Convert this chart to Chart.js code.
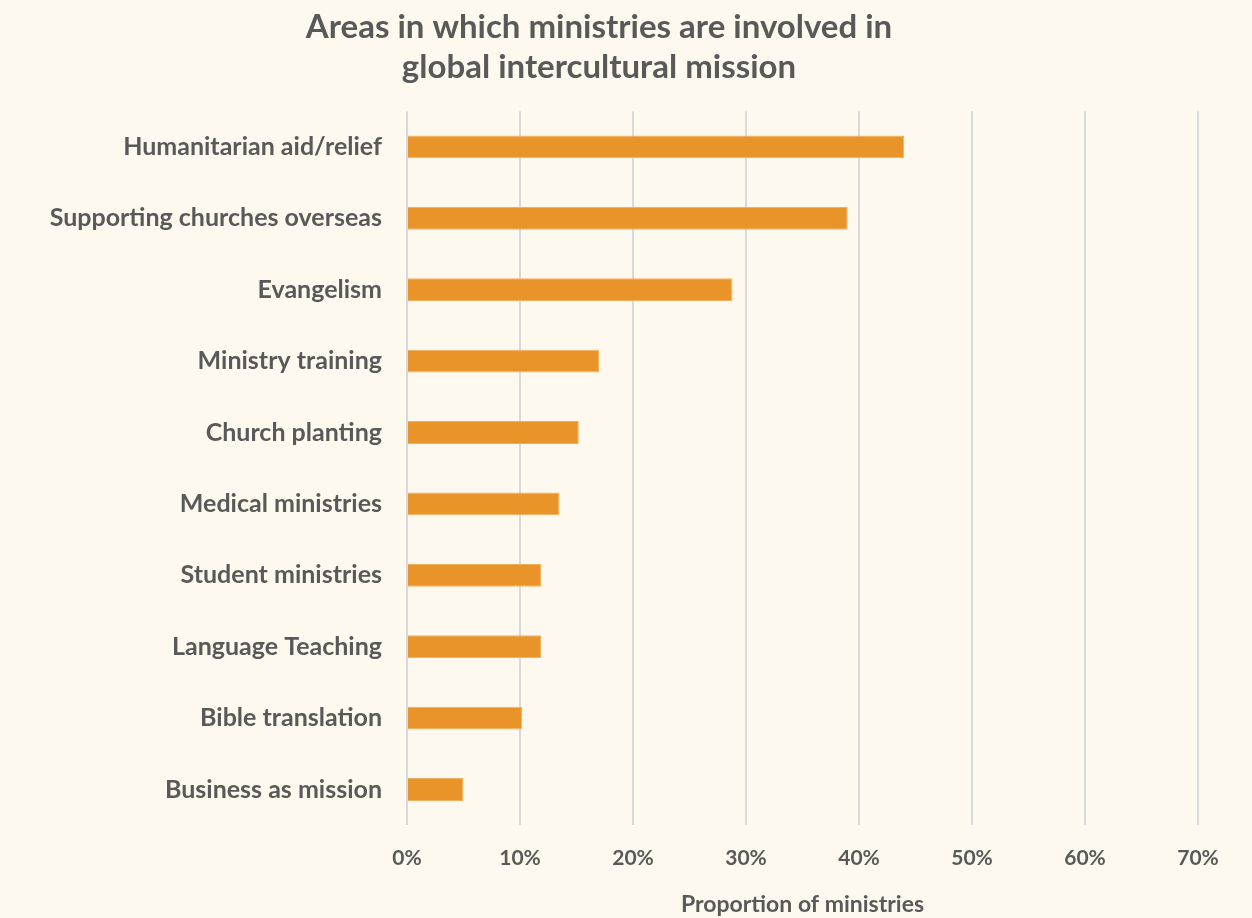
<!DOCTYPE html>
<html>
<head>
<meta charset="utf-8">
<script src="https://cdn.jsdelivr.net/npm/chart.js@4"></script>
<style>
  body { margin: 0; background: #fef9ee; }
  #wrap { width: 1252px; height: 918px; }
</style>
</head>
<body>
<div id="wrap"><canvas id="myChart"></canvas></div>
<script>
// areas of involvement, share of ministries (%)
var areas = [
  'Humanitarian aid/relief',
  'Supporting churches overseas',
  'Evangelism',
  'Ministry training',
  'Church planting',
  'Medical ministries',
  'Student ministries',
  'Language Teaching',
  'Bible translation',
  'Business as mission'
];
var shares = [44, 39, 28.8, 17, 15.2, 13.5, 11.9, 11.9, 10.2, 5];
var xTicks = [0, 10, 20, 30, 40, 50, 60, 70];

var grey = '#595959';
var fontName = 'Lato, "Open Sans", sans-serif';

var ctx = document.getElementById('myChart').getContext('2d');
var myChart = new Chart(ctx, {
  type: 'bar',
  data: {
    labels: areas,
    datasets: [{
      label: 'Proportion of ministries',
      data: shares,
      backgroundColor: '#e99428',
      borderColor: '#f0b060',
      borderWidth: 1,
      categoryPercentage: 1,
      barPercentage: 0.32
    }]
  },
  options: {
    indexAxis: 'y',
    responsive: true,
    maintainAspectRatio: false,
    animation: false,
    layout: { padding: { left: 0, right: 54, top: 0, bottom: 0 } },
    plugins: {
      legend: { display: false },
      tooltip: { enabled: false },
      title: {
        display: true,
        text: ['Areas in which ministries are involved in', 'global intercultural mission'],
        color: grey,
        font: { family: fontName, size: 33, weight: 'bold', lineHeight: 1.2 },
        padding: { top: 8, bottom: 24 }
      }
    },
    scales: {
      x: {
        min: 0,
        max: 70,
        afterBuildTicks: function (scale) {
          scale.ticks = xTicks.map(function (v) { return { value: v }; });
        },
        grid: { color: '#d9d9d9', lineWidth: 2, drawTicks: false },
        border: { display: false },
        ticks: {
          color: grey,
          padding: 20,
          font: { family: fontName, size: 21, weight: 'bold' },
          callback: function (v) { return v + '%'; }
        },
        title: {
          display: true,
          text: 'Proportion of ministries',
          color: grey,
          font: { family: fontName, size: 23, weight: 'bold' },
          padding: { top: 0, bottom: 0 }
        }
      },
      y: {
        grid: { display: false, drawTicks: false },
        border: { display: false },
        afterFit: function (scale) { scale.width = 407; },
        ticks: {
          color: grey,
          padding: 25,
          font: { family: fontName, size: 25, weight: 'bold' }
        }
      }
    }
  }
});
</script>
</body>
</html>
